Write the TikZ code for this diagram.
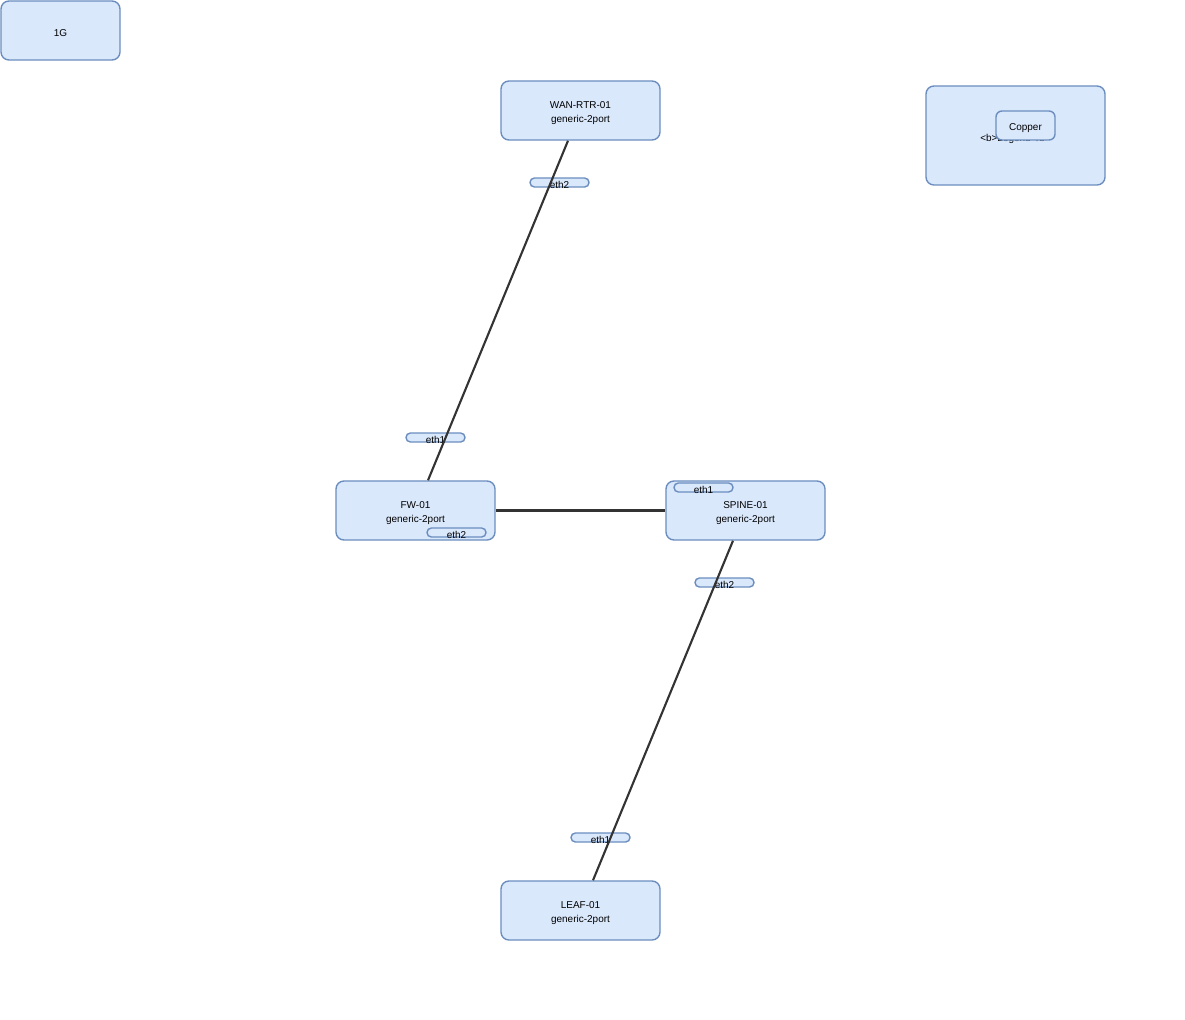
\documentclass[tikz,border=0pt]{standalone}
\usepackage{fontspec}
\setmainfont{Liberation Sans}
\definecolor{boxfill}{HTML}{DAE8FC}
\definecolor{boxline}{HTML}{6C8EBF}
\definecolor{wire}{HTML}{333333}
\tikzset{
  device/.style={draw=boxline, fill=boxfill, line width=1pt, rounded corners=0.2cm,
    minimum width=3.975cm, minimum height=1.475cm, inner sep=0pt},
  devtext/.style={align=center, yshift=-0.075cm, inner sep=0pt,
    font=\fontsize{7.1}{10}\selectfont},
  port/.style={draw=boxline, fill=boxfill, line width=1pt, rounded corners=0.11cm,
    minimum width=1.475cm, minimum height=0.225cm, inner sep=0pt},
  porttext/.style={inner sep=0pt, yshift=-0.07cm, text height=0.16cm, text depth=0.02cm,
    font=\fontsize{7.1}{8}\selectfont},
  link/.style={draw=wire, line width=1.5pt}
}
\begin{document}
\begin{tikzpicture}[x=0.025cm, y=-0.025cm]
\useasboundingbox (0,0) rectangle (1185,1020);
% legend
\node[device, minimum width=2.975cm, label={[devtext]center:1G}] (g1) at (60.5,30.5) {};
\node[device, minimum width=4.475cm, minimum height=2.475cm,
  label={[devtext]center:\textless b\textgreater Legend\textless /b\textgreater}] (legend) at (1015.5,135.5) {};
\node[device, minimum width=1.475cm, minimum height=0.725cm, rounded corners=0.15cm,
  label={[devtext]center:Copper}] (copper) at (1025.5,125.5) {};
% devices
\node[device, label={[devtext]center:WAN-RTR-01\\generic-2port}] (wan) at (580.5,110.5) {};
\node[device, label={[devtext]center:FW-01\\generic-2port}] (fw) at (415.5,510.5) {};
\node[device, label={[devtext]center:SPINE-01\\generic-2port}] (spine) at (745.5,510.5) {};
\node[device, label={[devtext]center:LEAF-01\\generic-2port}] (leaf) at (580.5,910.5) {};
% ports
\node[port, label={[porttext]center:eth2}] (waneth2) at (559.5,182.5) {};
\node[port, label={[porttext]center:eth1}] (fweth1) at (435.5,437.5) {};
\node[port, label={[porttext]center:eth2}] (fweth2) at (456.5,532.5) {};
\node[port, label={[porttext]center:eth1}] (spineeth1) at (703.5,487.5) {};
\node[port, label={[porttext]center:eth2}] (spineeth2) at (724.5,582.5) {};
\node[port, label={[porttext]center:eth1}] (leafeth1) at (600.5,837.5) {};
% links
\draw[link] ([xshift=-0.3125cm]wan.south) -- ([xshift=0.3125cm]fw.north);
\draw[link] (fw.east) -- (spine.west);
\draw[link] ([xshift=-0.3125cm]spine.south) -- ([xshift=0.3125cm]leaf.north);
\end{tikzpicture}
\end{document}
